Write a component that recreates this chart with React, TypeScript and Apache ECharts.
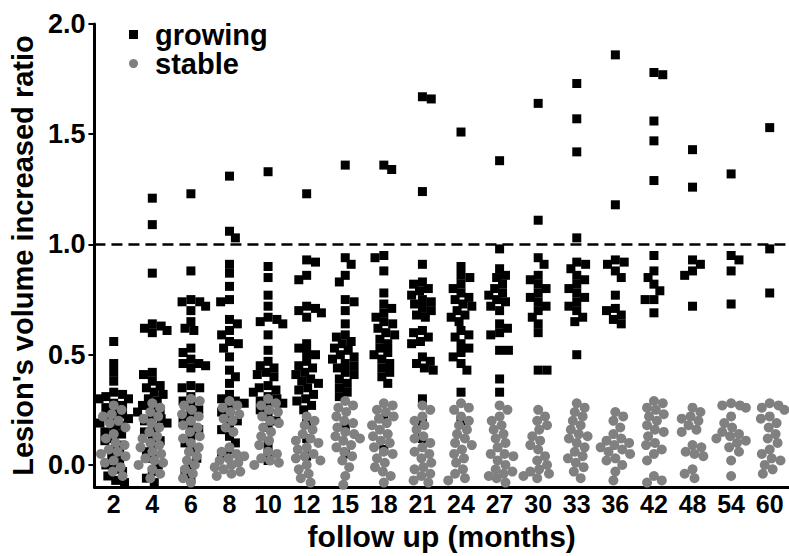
import React, { useEffect, useRef } from "react";
import * as echarts from "echarts";

const categories = ["2", "4", "6", "8", "10", "12", "15", "18", "21", "24", "27", "30", "33", "36", "42", "48", "54", "60"];
const yTicks = [0, 0.5, 1.0, 1.5, 2.0];
const threshold = 1.0;

const g2 = [0.56, 0.46, 0.42, 0.38, 0.33, 0.32, 0.31, 0.30, 0.30, 0.28, 0.27, 0.26, 0.24, 0.23, 0.22, 0.21, 0.20, 0.19, 0.18, 0.16, 0.15, 0.14, 0.12, 0.11, 0.09, 0.07, 0.05, 0.03, 0.01, 0.00, -0.02, -0.03, -0.05, -0.07, -0.08];
const g4 = [1.21, 1.09, 0.87, 0.64, 0.63, 0.62, 0.61, 0.60, 0.42, 0.41, 0.38, 0.36, 0.35, 0.33, 0.32, 0.30, 0.29, 0.27, 0.26, 0.25, 0.24, 0.22, 0.21, 0.20, 0.19, 0.17, 0.15, 0.13, 0.11, 0.09, 0.06, 0.03, 0.00, -0.03, -0.06, -0.08];
const g6 = [1.23, 0.88, 0.75, 0.74, 0.74, 0.72, 0.70, 0.65, 0.62, 0.61, 0.53, 0.51, 0.48, 0.46, 0.46, 0.45, 0.44, 0.36, 0.35, 0.35, 0.31, 0.29, 0.27, 0.25, 0.23, 0.21, 0.18, 0.16, 0.13, 0.10, 0.06, 0.03, 0.00, -0.03, -0.06];
const g8 = [1.31, 1.06, 1.03, 0.91, 0.87, 0.81, 0.75, 0.74, 0.66, 0.64, 0.61, 0.59, 0.56, 0.55, 0.53, 0.49, 0.43, 0.40, 0.37, 0.32, 0.30, 0.29, 0.28, 0.26, 0.24, 0.22, 0.20, 0.18, 0.16, 0.13, 0.10, 0.07, 0.05];
const g10 = [1.33, 0.90, 0.85, 0.77, 0.72, 0.67, 0.66, 0.65, 0.64, 0.59, 0.52, 0.47, 0.45, 0.44, 0.42, 0.41, 0.40, 0.36, 0.35, 0.34, 0.33, 0.31, 0.30, 0.29, 0.28, 0.27, 0.25, 0.22, 0.20, 0.17, 0.10, 0.06, 0.02];
const g12 = [1.23, 0.93, 0.92, 0.86, 0.84, 0.72, 0.71, 0.70, 0.69, 0.67, 0.55, 0.53, 0.51, 0.50, 0.47, 0.45, 0.44, 0.42, 0.41, 0.39, 0.38, 0.37, 0.35, 0.34, 0.32, 0.30, 0.29, 0.27, 0.25, 0.19, 0.12, 0.04];
const g15 = [1.36, 0.94, 0.91, 0.86, 0.83, 0.75, 0.74, 0.70, 0.64, 0.59, 0.58, 0.56, 0.55, 0.53, 0.52, 0.50, 0.49, 0.48, 0.46, 0.45, 0.44, 0.42, 0.41, 0.39, 0.37, 0.35, 0.33, 0.31, 0.18, 0.05];
const g18 = [1.36, 1.34, 0.95, 0.94, 0.88, 0.78, 0.73, 0.71, 0.69, 0.67, 0.65, 0.64, 0.62, 0.60, 0.59, 0.57, 0.55, 0.53, 0.51, 0.50, 0.48, 0.46, 0.44, 0.42, 0.40, 0.37, 0.21, 0.07];
const g21 = [1.67, 1.66, 1.24, 0.91, 0.83, 0.82, 0.80, 0.79, 0.77, 0.75, 0.74, 0.73, 0.71, 0.70, 0.68, 0.67, 0.61, 0.60, 0.58, 0.56, 0.55, 0.49, 0.47, 0.46, 0.44, 0.43, 0.30, 0.19, 0.12];
const g24 = [1.51, 0.90, 0.86, 0.85, 0.82, 0.80, 0.78, 0.76, 0.75, 0.73, 0.72, 0.70, 0.68, 0.67, 0.65, 0.61, 0.59, 0.58, 0.55, 0.53, 0.51, 0.49, 0.46, 0.43, 0.33, 0.20];
const g27 = [1.38, 0.98, 0.89, 0.86, 0.85, 0.82, 0.80, 0.78, 0.77, 0.75, 0.74, 0.72, 0.70, 0.64, 0.62, 0.60, 0.59, 0.52, 0.52, 0.39, 0.33];
const g30 = [1.64, 1.11, 0.94, 0.91, 0.86, 0.84, 0.82, 0.80, 0.78, 0.76, 0.74, 0.72, 0.70, 0.67, 0.64, 0.60, 0.43, 0.43];
const g33 = [1.73, 1.57, 1.42, 1.03, 0.92, 0.91, 0.89, 0.86, 0.84, 0.82, 0.80, 0.78, 0.76, 0.74, 0.72, 0.70, 0.67, 0.65, 0.50];
const g36 = [1.86, 1.18, 0.93, 0.92, 0.91, 0.88, 0.85, 0.77, 0.71, 0.70, 0.68, 0.66, 0.64];
const g42 = [1.78, 1.77, 1.56, 1.47, 1.29, 0.95, 0.88, 0.85, 0.82, 0.79, 0.75, 0.75, 0.69];
const g48 = [1.43, 1.26, 0.93, 0.91, 0.88, 0.86, 0.72];
const g54 = [1.32, 0.95, 0.93, 0.88, 0.73];
const g60 = [1.53, 0.98, 0.78];

const s2 = [0.27, 0.25, 0.23, 0.22, 0.20, 0.19, 0.17, 0.14, 0.12, 0.10, 0.09, 0.07, 0.06, 0.05, 0.04, 0.02, 0.01, -0.01, -0.03, -0.05];
const s4 = [0.28, 0.26, 0.24, 0.22, 0.21, 0.19, 0.17, 0.15, 0.13, 0.12, 0.10, 0.09, 0.08, 0.06, 0.05, 0.03, 0.02, 0.01, 0.00, -0.02, -0.04, -0.06];
const s6 = [0.30, 0.29, 0.27, 0.25, 0.23, 0.22, 0.20, 0.18, 0.17, 0.15, 0.13, 0.12, 0.10, 0.08, 0.06, 0.04, 0.02, 0.00, -0.02, -0.04, -0.06, -0.08];
const s8 = [0.29, 0.27, 0.26, 0.24, 0.23, 0.21, 0.20, 0.17, 0.15, 0.08, 0.06, 0.05, 0.04, 0.03, 0.02, 0.01, 0.00, -0.01, -0.02, -0.03, -0.04, -0.05];
const s10 = [0.30, 0.28, 0.27, 0.25, 0.24, 0.22, 0.20, 0.19, 0.17, 0.15, 0.13, 0.11, 0.09, 0.06, 0.05, 0.03, 0.02, 0.01, 0.00];
const s12 = [0.22, 0.20, 0.18, 0.16, 0.14, 0.12, 0.11, 0.10, 0.08, 0.07, 0.05, 0.04, 0.03, 0.02, 0.00, -0.02, -0.04, -0.06, -0.08];
const s15 = [0.29, 0.27, 0.26, 0.24, 0.22, 0.20, 0.19, 0.17, 0.15, 0.14, 0.13, 0.12, 0.11, 0.09, 0.08, 0.06, 0.04, 0.02, -0.01, -0.05, -0.09];
const s18 = [0.28, 0.27, 0.25, 0.24, 0.22, 0.21, 0.19, 0.18, 0.16, 0.14, 0.13, 0.11, 0.10, 0.08, 0.06, 0.05, 0.03, 0.01, -0.01, -0.03, -0.05, -0.08];
const s21 = [0.27, 0.25, 0.22, 0.20, 0.18, 0.16, 0.13, 0.12, 0.10, 0.08, 0.06, 0.05, 0.03, 0.01, -0.01, -0.02, -0.04, -0.05, -0.07, -0.08];
const s24 = [0.28, 0.26, 0.25, 0.22, 0.20, 0.18, 0.16, 0.14, 0.12, 0.10, 0.09, 0.07, 0.05, 0.03, 0.01, -0.02, -0.04, -0.06, -0.07];
const s27 = [0.27, 0.25, 0.22, 0.20, 0.18, 0.16, 0.14, 0.12, 0.10, 0.08, 0.05, 0.05, 0.04, 0.02, 0.00, -0.02, -0.03, -0.04, -0.05, -0.06, -0.08];
const s30 = [0.25, 0.22, 0.20, 0.18, 0.16, 0.13, 0.11, 0.09, 0.07, 0.04, 0.02, 0.00, -0.02, -0.03, -0.04, -0.05, -0.06];
const s33 = [0.28, 0.26, 0.24, 0.22, 0.20, 0.18, 0.16, 0.14, 0.13, 0.12, 0.10, 0.08, 0.06, 0.04, 0.03, 0.01, -0.01, -0.03, -0.06];
const s36 = [0.24, 0.22, 0.20, 0.17, 0.14, 0.12, 0.11, 0.10, 0.09, 0.08, 0.07, 0.06, 0.05, 0.03, 0.02, 0.00, -0.03, -0.07];
const s42 = [0.29, 0.28, 0.26, 0.25, 0.23, 0.22, 0.20, 0.18, 0.16, 0.15, 0.13, 0.10, 0.09, 0.07, 0.05, 0.02, -0.05, -0.07, -0.08];
const s48 = [0.26, 0.24, 0.22, 0.21, 0.20, 0.18, 0.16, 0.15, 0.09, 0.08, 0.06, 0.05, 0.04, -0.02, -0.04, -0.06];
const s54 = [0.28, 0.27, 0.27, 0.26, 0.22, 0.19, 0.17, 0.15, 0.14, 0.13, 0.12, 0.11, 0.10, 0.08, 0.06, 0.02, -0.05];
const s60 = [0.28, 0.27, 0.26, 0.25, 0.22, 0.21, 0.19, 0.17, 0.14, 0.12, 0.10, 0.07, 0.05, 0.03, 0.02, 0.00, -0.02, -0.04];

const growing = [g2, g4, g6, g8, g10, g12, g15, g18, g21, g24, g27, g30, g33, g36, g42, g48, g54, g60];
const stable = [s2, s4, s6, s8, s10, s12, s15, s18, s21, s24, s27, s30, s33, s36, s42, s48, s54, s60];

// layout constants (pixels)
const GRID_LEFT = 86;
const GRID_TOP = 24;
const GRID_W = 707;
const GRID_H = 465;
const Y_MIN = -0.1;
const Y_MAX = 2.0;
const PX_PER_CAT = GRID_W / categories.length;
const PX_PER_UNIT = GRID_H / (Y_MAX - Y_MIN);

// beeswarm layout: spreads points of one column sideways so they do not overlap
function swarm(columns: number[][], minDist: number, maxOff: number): number[][] {
  const out: number[][] = [];
  columns.forEach((vals, ci) => {
    const placed: { x: number; y: number }[] = [];
    const sorted = [...vals].sort((a, b) => b - a);
    let side = 1;
    sorted.forEach((v) => {
      const py = v * PX_PER_UNIT;
      let best = 0;
      let bestScore = -1;
      let found = false;
      for (let k = 0; k <= maxOff && !found; k += 1) {
        const cands = k === 0 ? [0] : [side * k, -side * k];
        for (const c of cands) {
          let md = Infinity;
          for (const p of placed) {
            const d = Math.hypot(p.x - c, p.y - py);
            if (d < md) md = d;
          }
          if (md >= minDist) {
            best = c;
            found = true;
            break;
          }
          if (md > bestScore) {
            bestScore = md;
            best = c;
          }
        }
      }
      if (best !== 0) side = best > 0 ? -1 : 1;
      placed.push({ x: best, y: py });
      out.push([ci + best / PX_PER_CAT, v]);
    });
  });
  return out;
}

const FONT = "'Liberation Sans', Arial, Helvetica, sans-serif";

export default function App() {
  const ref = useRef<HTMLDivElement>(null);
  useEffect(() => {
    if (!ref.current) return;
    const chart = echarts.init(ref.current, undefined, { renderer: "svg" });
    const growingData = swarm(growing, 8.5, 15);
    const stableData = swarm(stable, 9, 15);
    chart.setOption({
      animation: false,
      backgroundColor: "#ffffff",
      grid: { left: GRID_LEFT, top: GRID_TOP, width: GRID_W, height: GRID_H, containLabel: false },
      legend: {
        orient: "vertical",
        left: 124,
        top: 15,
        itemGap: 0,
        itemWidth: 9,
        itemHeight: 9,
        textStyle: {
          fontFamily: FONT,
          fontSize: 29,
          fontWeight: "bold",
          color: "#000",
          lineHeight: 29,
          padding: [0, 0, 0, 12],
        },
        data: [
          { name: "growing", icon: "rect", itemStyle: { color: "#000" } },
          { name: "stable", icon: "circle", itemStyle: { color: "#808080" } },
        ],
      },
      xAxis: [
        {
          type: "category",
          data: categories,
          boundaryGap: true,
          name: "follow up (months)",
          nameLocation: "middle",
          nameGap: 34,
          nameTextStyle: { fontFamily: FONT, fontSize: 30, fontWeight: "bold", color: "#000" },
          axisLine: { onZero: false, lineStyle: { color: "#000", width: 3 } },
          axisTick: { alignWithLabel: true, length: 6, lineStyle: { color: "#000", width: 2 } },
          axisLabel: { fontFamily: FONT, fontSize: 25, fontWeight: "bold", color: "#000", margin: 4, interval: 0 },
          splitLine: { show: false },
        },
        {
          type: "value",
          min: -0.5,
          max: categories.length - 0.5,
          show: false,
          axisLine: { onZero: false },
          splitLine: { show: false },
        },
      ],
      yAxis: {
        type: "value",
        min: Y_MIN,
        max: Y_MAX,
        name: "Lesion's volume increased ratio",
        nameLocation: "middle",
        nameGap: 56,
        nameTextStyle: { fontFamily: FONT, fontSize: 29, fontWeight: "bold", color: "#000" },
        axisLine: { show: true, onZero: false, lineStyle: { color: "#000", width: 3 } },
        axisTick: { show: true, length: 6, customValues: yTicks, lineStyle: { color: "#000", width: 2 } },
        axisLabel: {
          fontFamily: FONT,
          fontSize: 27,
          fontWeight: "bold",
          color: "#000",
          margin: 9,
          customValues: yTicks,
          formatter: (v: number) => v.toFixed(1),
        },
        splitLine: { show: false },
      },
      series: [
        {
          name: "growing",
          type: "scatter",
          xAxisIndex: 1,
          symbol: "rect",
          symbolSize: 9,
          itemStyle: { color: "#000", opacity: 1 },
          data: growingData,
          markLine: {
            silent: true,
            symbol: "none",
            label: { show: false },
            lineStyle: { color: "#000", width: 2.5, type: [11, 6] },
            data: [{ yAxis: threshold }],
          },
        },
        {
          name: "stable",
          type: "scatter",
          xAxisIndex: 1,
          symbol: "circle",
          symbolSize: 10,
          itemStyle: { color: "#808080", opacity: 1 },
          data: stableData,
        },
      ],
    });
    return () => chart.dispose();
  }, []);
  return <div ref={ref} style={{ width: 789, height: 556, position: "absolute", left: 0, top: 0 }} />;
}
